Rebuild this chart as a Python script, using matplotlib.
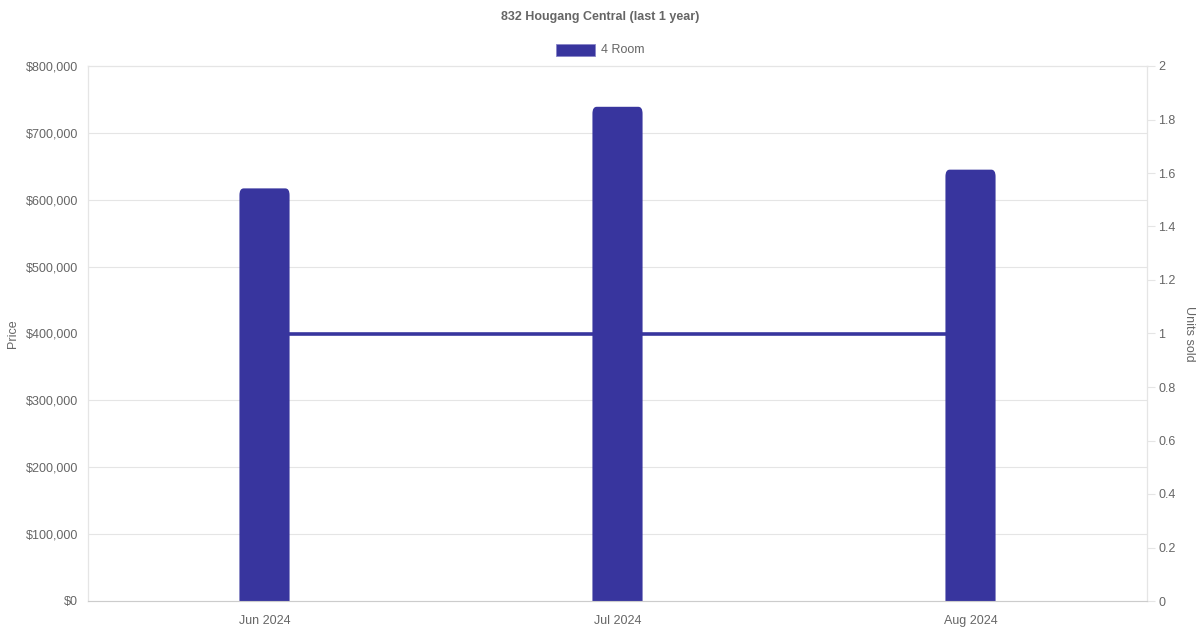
import matplotlib
matplotlib.use('Agg')
from matplotlib import pyplot as plt
from matplotlib import ticker
from matplotlib.patches import FancyBboxPatch
import numpy as np

plt.rcParams['font.family'] = ['Liberation Sans', 'DejaVu Sans']

months = ['Jun 2024', 'Jul 2024', 'Aug 2024']
prices = [617000, 739000, 645000]
units_sold = [1, 1, 1]

BAR_COLOR = '#38359e'
TEXT = '#666666'
GRID = '#e5e5e5'

fig = plt.figure(figsize=(12, 6.3), dpi=100)
ax = fig.add_axes([88/1200, 29/630, 1059/1200, 535/630])
ax2 = ax.twinx()

x = np.arange(len(months))
width = 0.142

# bars on top, line + grid behind them
ax.set_zorder(ax2.get_zorder() + 1)
ax.patch.set_visible(False)
ax2.plot(x, units_sold, color=BAR_COLOR, lw=2.6, solid_capstyle='butt', zorder=3)

bars = ax.bar(x, prices, width, color=BAR_COLOR, label='4 Room')
# rounded top corners; bottom corners hang below 0 and get clipped
for b in bars:
    b.set_visible(False)
    ax.add_patch(FancyBboxPatch((b.get_x(), -50000), b.get_width(), b.get_height() + 50000,
        boxstyle='round,pad=0,rounding_size=0.012', mutation_aspect=9000000 / 0.142 * 0.0135,
        fc=BAR_COLOR, ec='none'))

ax.set_xlim(-0.5, 2.5)
ax.set_ylim(0, 800000)
ax2.set_ylim(0, 2)

ax.yaxis.set_major_locator(ticker.MultipleLocator(100000))
ax.yaxis.set_major_formatter(ticker.FuncFormatter(lambda v, p: f'${v:,.0f}'))
ax2.yaxis.set_major_locator(ticker.MultipleLocator(0.2))
ax2.yaxis.set_major_formatter(ticker.FuncFormatter(lambda v, p: f'{v:g}'))
# grid lines follow the price ticks (every 1/8 of the height)
ax2.yaxis.set_minor_locator(ticker.MultipleLocator(0.25))
ax2.grid(axis='y', which='minor', color=GRID, lw=0.8, zorder=0)
ax2.set_axisbelow(True)

ax.set_xticks(x)
ax.set_xticklabels(months)

for a in (ax, ax2):
    for s in a.spines.values():
        s.set_color(GRID)
        s.set_linewidth(0.8)
    a.tick_params(labelsize=9, labelcolor=TEXT, color=GRID, length=0)
ax2.tick_params(axis='y', which='minor', length=0)
ax2.tick_params(axis='y', which='major', length=6, pad=2)
ax.tick_params(axis='y', pad=7)
ax.tick_params(axis='x', pad=10)
ax.spines['bottom'].set_color('#cccccc')

ax.set_ylabel('Price', color=TEXT, fontsize=9, labelpad=5)
ax2.set_ylabel('Units sold', color=TEXT, fontsize=9, rotation=270, labelpad=14)

fig.text(0.5, 1 - 17/630, '832 Hougang Central (last 1 year)', ha='center', va='center',
    fontsize=9, fontweight='bold', color=TEXT)

# legend box
fig.patches.append(plt.Rectangle((556/1200, 1 - 56/630), 39/1200, 12/630,
    transform=fig.transFigure, fc=BAR_COLOR, ec='#8885c8', lw=0.6))
fig.text(601/1200, 1 - 50/630, '4 Room', ha='left', va='center', fontsize=9, color=TEXT)

fig.savefig('out.png', dpi=100)
